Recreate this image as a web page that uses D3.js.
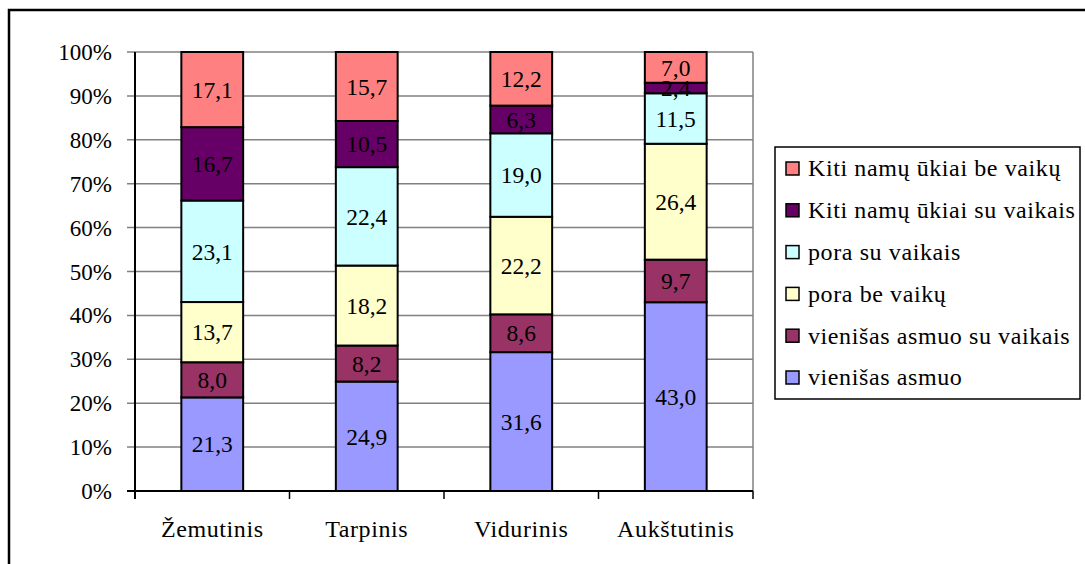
<!DOCTYPE html>
<html>
<head>
<meta charset="utf-8">
<script src="https://cdn.jsdelivr.net/npm/d3@7"></script>
<style>
    body { margin: 0; background: #fff; }
</style>
</head>
<body>
<svg id="chart" width="1085" height="564"></svg>
<script>
// categories (income groups)
var categories = ['Žemutinis', 'Tarpinis', 'Vidurinis', 'Aukštutinis'];

// series, bottom of the stack first
var seriesNames = [
    'vienišas asmuo',
    'vienišas asmuo su vaikais',
    'pora be vaikų',
    'pora su vaikais',
    'Kiti namų ūkiai su vaikais',
    'Kiti namų ūkiai be vaikų'
];
var seriesColors = ['#9999FF', '#993366', '#FFFFCC', '#CCFFFF', '#660066', '#FF8080'];

// values per series, one per category
var vienisas = [21.3, 24.9, 31.6, 43.0];
var vienisasSuVaikais = [8.0, 8.2, 8.6, 9.7];
var poraBeVaiku = [13.7, 18.2, 22.2, 26.4];
var poraSuVaikais = [23.1, 22.4, 19.0, 11.5];
var kitiSuVaikais = [16.7, 10.5, 6.3, 2.4];
var kitiBeVaiku = [17.1, 15.7, 12.2, 7.0];

var yTicks = [0, 0.1, 0.2, 0.3, 0.4, 0.5, 0.6, 0.7, 0.8, 0.9, 1];

var seriesValues = [vienisas, vienisasSuVaikais, poraBeVaiku, poraSuVaikais, kitiSuVaikais, kitiBeVaiku];

var FONT = 'Liberation Serif';

var margin = { top: 52, left: 135, right: 332, bottom: 73 };
var width = 1085, height = 564;
var plotW = width - margin.left - margin.right,
    plotH = height - margin.top - margin.bottom;

var svg = d3.select('#chart');

// outer chart frame (right and bottom edges fall outside the picture)
svg.append('rect')
    .attr('x', 9).attr('y', 10)
    .attr('width', 1200).attr('height', 700)
    .attr('fill', 'none')
    .attr('stroke', '#000')
    .attr('stroke-width', 2.5);

var g = svg.append('g')
    .attr('transform', 'translate(' + margin.left + ',' + margin.top + ')');

var x = d3.scaleBand()
    .domain(categories)
    .range([0, plotW])
    .paddingInner(0.6)
    .paddingOuter(0.3);

var xEdge = d3.scaleLinear().domain([0, categories.length]).range([0, plotW]);

var y = d3.scaleLinear().domain([0, 1]).range([plotH, 0]);

// build table for the stack, normalised to 100%
var table = categories.map(function (c, i) {
    var row = { cat: c };
    var total = d3.sum(seriesValues, function (s) { return s[i]; });
    seriesNames.forEach(function (n, k) {
        row[n] = seriesValues[k][i] / total;
        row['raw_' + k] = seriesValues[k][i];
    });
    return row;
});

var stack = d3.stack().keys(seriesNames);
var layers = stack(table);

// gridlines
g.selectAll('.grid')
    .data(yTicks.slice(1))
    .enter().append('line')
    .attr('class', 'grid')
    .attr('x1', -8).attr('x2', plotW)
    .attr('y1', function (d) { return y(d); })
    .attr('y2', function (d) { return y(d); })
    .attr('stroke', '#808080')
    .attr('stroke-width', 1.5);

// plot area right border
g.append('line')
    .attr('x1', plotW).attr('x2', plotW)
    .attr('y1', 0).attr('y2', plotH)
    .attr('stroke', '#808080')
    .attr('stroke-width', 1.5);

// bars
var layer = g.selectAll('.layer')
    .data(layers)
    .enter().append('g')
    .attr('class', 'layer')
    .attr('fill', function (d, i) { return seriesColors[i]; });

layer.selectAll('rect')
    .data(function (d) { return d; })
    .enter().append('rect')
    .attr('x', function (d) { return x(d.data.cat); })
    .attr('width', x.bandwidth())
    .attr('y', function (d) { return y(d[1]); })
    .attr('height', function (d) { return y(d[0]) - y(d[1]); })
    .attr('stroke', '#000')
    .attr('stroke-width', 2);

// data labels
layers.forEach(function (l, k) {
    g.selectAll('.lbl' + k)
        .data(l)
        .enter().append('text')
        .attr('class', 'lbl' + k)
        .attr('x', function (d) { return x(d.data.cat) + x.bandwidth() / 2; })
        .attr('y', function (d) { return (y(d[0]) + y(d[1])) / 2; })
        .attr('dy', '0.35em')
        .attr('text-anchor', 'middle')
        .attr('font-family', FONT)
        .attr('font-size', 23.5)
        .attr('fill', '#000')
        .text(function (d) { return d3.format('.1f')(d.data['raw_' + k]).replace('.', ','); });
});

// y axis
g.append('line')
    .attr('x1', 0).attr('x2', 0)
    .attr('y1', 0).attr('y2', plotH + 8)
    .attr('stroke', '#000')
    .attr('stroke-width', 2);

g.append('line')
    .attr('x1', -8).attr('x2', plotW)
    .attr('y1', plotH).attr('y2', plotH)
    .attr('stroke', '#000')
    .attr('stroke-width', 2);

g.selectAll('.ytick')
    .data(yTicks)
    .enter().append('text')
    .attr('class', 'ytick')
    .attr('x', -23)
    .attr('y', function (d) { return y(d); })
    .attr('dy', '0.35em')
    .attr('text-anchor', 'end')
    .attr('font-family', FONT)
    .attr('font-size', 23)
    .text(function (d) { return d3.format('.0%')(d); });

// x category ticks
g.selectAll('.xtick')
    .data(d3.range(categories.length + 1))
    .enter().append('line')
    .attr('class', 'xtick')
    .attr('x1', function (d) { return xEdge(d); })
    .attr('x2', function (d) { return xEdge(d); })
    .attr('y1', plotH).attr('y2', plotH + 8)
    .attr('stroke', '#000')
    .attr('stroke-width', 1.5);

g.selectAll('.xlabel')
    .data(categories)
    .enter().append('text')
    .attr('class', 'xlabel')
    .attr('x', function (d) { return x(d) + x.bandwidth() / 2; })
    .attr('y', plotH + 46)
    .attr('text-anchor', 'middle')
    .attr('font-family', FONT)
    .attr('font-size', 24)
    .attr('letter-spacing', 0.6)
    .text(function (d) { return d; });

// legend, top entry is the last series
var legend = svg.append('g')
    .attr('transform', 'translate(775,147)');

legend.append('rect')
    .attr('x', 0).attr('y', 0)
    .attr('width', 305).attr('height', 252)
    .attr('fill', '#fff')
    .attr('stroke', '#000')
    .attr('stroke-width', 1.5);

var legendOrder = seriesNames.map(function (n, i) { return i; }).reverse();

var item = legend.selectAll('.item')
    .data(legendOrder)
    .enter().append('g')
    .attr('class', 'item')
    .attr('transform', function (d, i) { return 'translate(0,' + (21 + i * 41.8) + ')'; });

item.append('rect')
    .attr('x', 11).attr('y', -6)
    .attr('width', 13).attr('height', 13)
    .attr('fill', function (d) { return seriesColors[d]; })
    .attr('stroke', '#000')
    .attr('stroke-width', 1.5);

item.append('text')
    .attr('x', 33)
    .attr('dy', '0.35em')
    .attr('font-family', FONT)
    .attr('font-size', 24)
    .attr('letter-spacing', 0.6)
    .text(function (d) { return seriesNames[d]; });
</script>
</body>
</html>
